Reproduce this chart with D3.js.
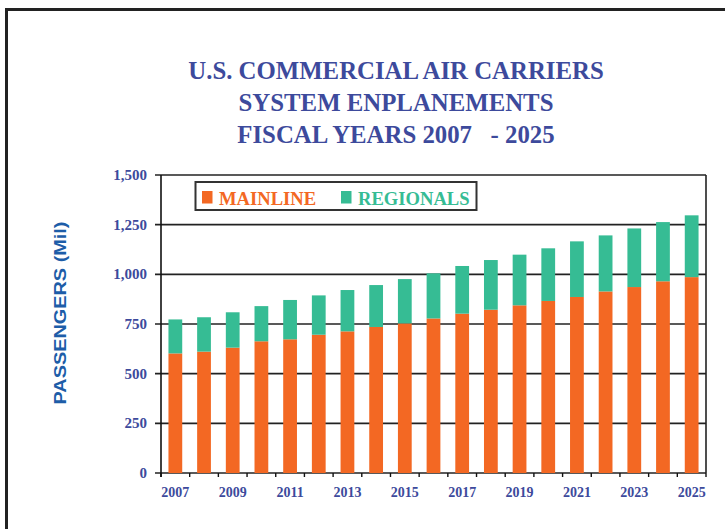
<!DOCTYPE html>
<meta charset="utf-8">
<head>
<script src="https://d3js.org/d3.v7.min.js"></script>
<style>
body { margin: 0; background: #fff; }
svg { display: block; }
.serif { font-family: "Liberation Serif", "Times New Roman", serif; font-weight: bold; }
</style>
</head>
<body>
<script>
    // values (millions of passengers)
    var years = [2007, 2008, 2009, 2010, 2011, 2012, 2013, 2014, 2015, 2016,
                 2017, 2018, 2019, 2020, 2021, 2022, 2023, 2024, 2025]
    var mainline = [602, 611, 631, 663, 673, 696, 713, 735, 753, 778,
                    802, 822, 844, 866, 886, 914, 936, 965, 986]
    var regionals = [171, 173, 178, 177, 198, 198, 208, 211, 223, 227,
                     240, 250, 255, 265, 280, 282, 295, 298, 311]
    var yTicks = [0, 250, 500, 750, 1000, 1250, 1500]
    var titleLines = ["U.S. COMMERCIAL AIR CARRIERS", "SYSTEM ENPLANEMENTS", "FISCAL YEARS 2007   - 2025"]

    var width = 725, height = 529
    var margin = {top: 175, right: 19, bottom: 56, left: 161}
    var orange = "#f36823", green = "#36bc94", ink = "#3d4a9c"

    var data = years.map((y, i) => ({year: y, mainline: mainline[i], regionals: regionals[i]}))
    var series = d3.stack().keys(["mainline", "regionals"])(data)

    var x = d3.scaleBand()
      .domain(years)
      .range([margin.left, width - margin.right])
      .paddingInner(0.52)
      .paddingOuter(0.26)

    var y = d3.scaleLinear()
      .domain([0, 1500])
      .range([height - margin.bottom, margin.top])

    var color = d3.scaleOrdinal(["mainline", "regionals"], [orange, green])

    var svg = d3.select("body").append("svg")
      .attr("width", width)
      .attr("height", height)
      .attr("viewBox", [0, 0, width, height])

    // outer frame (top and left edges only are visible)
    svg.append("path")
      .attr("d", `M6.5,${height}V9.5H${width}`)
      .attr("fill", "none")
      .attr("stroke", "#222")
      .attr("stroke-width", 3)

    // title
    svg.append("text")
      .attr("class", "serif")
      .attr("fill", ink)
      .attr("font-size", 24.8)
      .attr("text-anchor", "middle")
      .selectAll("tspan")
      .data(titleLines)
      .join("tspan")
        .attr("x", 396)
        .attr("y", (d, i) => 79 + i * 32)
        .style("white-space", "pre")
        .text(d => d)

    // gridlines
    svg.append("g")
      .attr("stroke", "#222")
      .attr("stroke-width", 1.6)
      .selectAll("line")
      .data(yTicks)
      .join("line")
        .attr("x1", margin.left - 6)
        .attr("x2", width - margin.right)
        .attr("y1", d => y(d))
        .attr("y2", d => y(d))

    // right edge of the plot
    svg.append("line")
      .attr("x1", width - margin.right).attr("x2", width - margin.right)
      .attr("y1", y(1500)).attr("y2", y(0))
      .attr("stroke", "#222").attr("stroke-width", 1.6)

    // bars
    svg.append("g")
      .selectAll("g")
      .data(series)
      .join("g")
        .attr("fill", d => color(d.key))
      .selectAll("rect")
      .data(d => d)
      .join("rect")
        .attr("x", d => x(d.data.year))
        .attr("width", x.bandwidth())
        .attr("y", d => y(d[1]))
        .attr("height", d => y(d[0]) - y(d[1]))

    // y axis
    svg.append("line")
      .attr("x1", margin.left).attr("x2", margin.left)
      .attr("y1", y(1500)).attr("y2", y(0) + 4)
      .attr("stroke", "#111").attr("stroke-width", 1.6)

    svg.append("g")
      .attr("class", "serif")
      .attr("font-size", 15)
      .attr("fill", ink)
      .attr("text-anchor", "end")
      .selectAll("text")
      .data(yTicks)
      .join("text")
        .attr("x", 147)
        .attr("y", d => y(d) + 5)
        .text(d => d3.format(",")(d))

    // x axis ticks at band boundaries
    var step = x.step()
    svg.append("g")
      .attr("stroke", "#111")
      .attr("stroke-width", 1.4)
      .selectAll("line")
      .data(d3.range(years.length + 1))
      .join("line")
        .attr("x1", i => margin.left + i * step)
        .attr("x2", i => margin.left + i * step)
        .attr("y1", y(0))
        .attr("y2", y(0) + 4)

    svg.append("g")
      .attr("class", "serif")
      .attr("font-size", 14)
      .attr("fill", ink)
      .attr("text-anchor", "middle")
      .selectAll("text")
      .data(years.filter((d, i) => i % 2 == 0))
      .join("text")
        .attr("x", d => x(d) + x.bandwidth() / 2)
        .attr("y", 497)
        .text(d => d)

    // y axis title
    svg.append("text")
      .attr("transform", "translate(66,313) rotate(-90)")
      .attr("text-anchor", "middle")
      .attr("font-family", "'Liberation Sans', Arial, sans-serif")
      .attr("font-weight", "bold")
      .attr("font-size", 16.5)
      .attr("fill", "#1d5da8")
      .attr("textLength", 183)
      .attr("lengthAdjust", "spacingAndGlyphs")
      .text("PASSENGERS (Mil)")

    // legend
    var legend = svg.append("g")
    legend.append("rect")
      .attr("x", 195.5).attr("y", 182)
      .attr("width", 281).attr("height", 28)
      .attr("fill", "#fff")
      .attr("stroke", "#333")
      .attr("stroke-width", 2)

    var items = [{key: "mainline", label: "MAINLINE", x: 202},
                 {key: "regionals", label: "REGIONALS", x: 341}]
    var li = legend.selectAll(".item")
      .data(items)
      .join("g")
        .attr("class", "item")
    li.append("rect")
      .attr("x", d => d.x)
      .attr("y", 191)
      .attr("width", 10.5)
      .attr("height", 12.5)
      .attr("fill", d => color(d.key))
    li.append("text")
      .attr("class", "serif")
      .attr("x", d => d.x + 17)
      .attr("y", 205)
      .attr("font-size", 18.6)
      .attr("fill", d => color(d.key))
      .text(d => d.label)
</script>
</body>
